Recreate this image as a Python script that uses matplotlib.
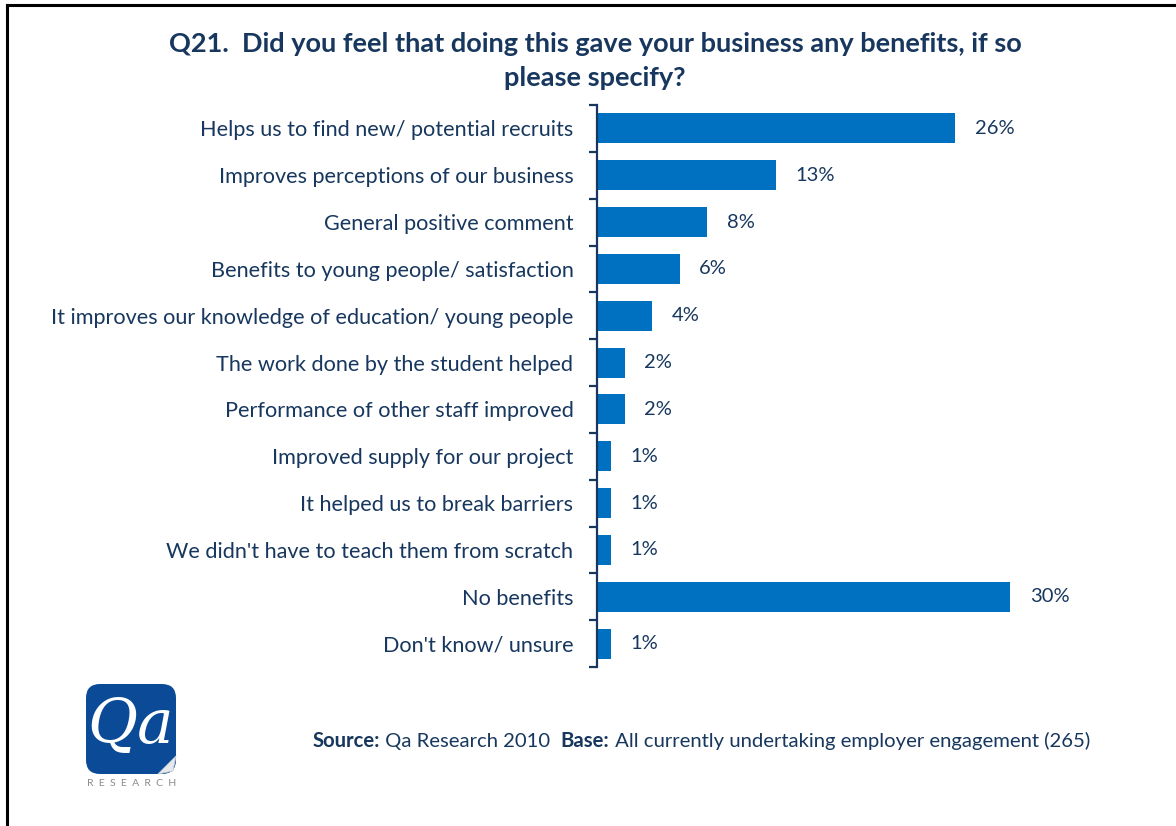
import matplotlib
matplotlib.use("Agg")
import matplotlib.pyplot as plt
import numpy as np
from matplotlib.patches import FancyBboxPatch, Polygon
from matplotlib.lines import Line2D

categories = [
    "Helps us to find new/ potential recruits",
    "Improves perceptions of our business",
    "General positive comment",
    "Benefits to young people/ satisfaction",
    "It improves our knowledge of education/ young people",
    "The work done by the student helped",
    "Performance of other staff improved",
    "Improved supply for our project",
    "It helped us to break barriers",
    "We didn't have to teach them from scratch",
    "No benefits",
    "Don't know/ unsure",
]
values = [26, 13, 8, 6, 4, 2, 2, 1, 1, 1, 30, 1]
value_labels = ["26%", "13%", "8%", "6%", "4%", "2%", "2%", "1%", "1%", "1%", "30%", "1%"]

title = "Q21.  Did you feel that doing this gave your business any benefits, if so\nplease specify?"

BAR = "#0070C0"
NAVY = "#17375E"
FONT = "Lato"

W, H = 1176, 826
fig = plt.figure(figsize=(W / 100, H / 100), dpi=100)

def fx(px):
    return px / W

def fy(py):
    return 1 - py / H

# page frame (top and left edges)
fig.add_artist(Line2D([fx(7), fx(1176)], [fy(5), fy(5)], color="black", lw=2.2))
fig.add_artist(Line2D([fx(7), fx(7)], [fy(5), fy(826)], color="black", lw=2.2))

ax_left, ax_right = 597, 1100
ax_top, ax_bot = 105, 667
ax = fig.add_axes([fx(ax_left), fy(ax_bot), fx(ax_right - ax_left), (ax_bot - ax_top) / H])

n = len(categories)
y = np.arange(n)
ax.barh(y, values, height=0.64, color=BAR, zorder=2)
ax.set_ylim(n - 0.5, -0.5)
ax.set_xlim(0, (ax_right - ax_left) / 13.78)

for yi, v, lab in zip(y, values, value_labels):
    ax.annotate(lab, (v, yi), xytext=(14, 0), textcoords="offset points",
                va="center", ha="left", fontsize=14.5, color=NAVY, family=FONT)

for s in ["top", "right", "bottom"]:
    ax.spines[s].set_visible(False)
ax.spines["left"].set_color(NAVY)
ax.spines["left"].set_linewidth(1.6)
ax.set_xticks([])

# boundaries between categories carry the ticks; labels sit at the centres
ax.set_yticks(np.arange(-0.5, n, 1.0))
ax.set_yticklabels([])
ax.tick_params(axis="y", which="major", length=6, width=1.6, color=NAVY, direction="out")
ax.set_yticks(y, minor=True)
ax.set_yticklabels(categories, minor=True, fontsize=15.6, color=NAVY, family=FONT)
ax.tick_params(axis="y", which="minor", length=0, pad=17)

fig.text(fx(595), fy(61), title, ha="center", va="center", fontsize=19.5,
         fontweight="bold", color=NAVY, family=FONT, linespacing=1.45)

# source line with bold lead-ins
fig.canvas.draw()
renderer = fig.canvas.get_renderer()
pieces = [("Source:", "bold"), (" Qa Research 2010  ", "normal"),
          ("Base:", "bold"), (" All currently undertaking employer engagement (265)", "normal")]
xpos = 313
for txt, wt in pieces:
    t = fig.text(fx(xpos), fy(741), txt, ha="left", va="center", fontsize=14.6,
                 fontweight=wt, color=NAVY, family=FONT)
    bb = t.get_window_extent(renderer)
    xpos += bb.width

# logo
lx0, ly0, lsize = 86, 684, 90
logo = FancyBboxPatch((fx(lx0), fy(ly0 + lsize)), fx(lsize), lsize / H,
                      boxstyle="round,pad=0,rounding_size=0.012",
                      transform=fig.transFigure, facecolor="#0A4A97",
                      edgecolor="none", mutation_aspect=W / H)
fig.add_artist(logo)
# gradient highlight over the upper part
grad = fig.add_axes([fx(lx0 + 3), fy(ly0 + lsize * 0.55), fx(lsize - 6), (lsize * 0.5) / H])
grad.imshow(np.linspace(0, 1, 50).reshape(-1, 1), cmap=matplotlib.colors.LinearSegmentedColormap.from_list(
    "g", ["#2F6CB5", "#0A4A97"]), aspect="auto", alpha=0.6)
grad.axis("off")
# page curl at the bottom-right corner
curl = Polygon([[fx(lx0 + lsize - 18), fy(ly0 + lsize)], [fx(lx0 + lsize), fy(ly0 + lsize - 18)],
                [fx(lx0 + lsize - 3), fy(ly0 + lsize - 3)]], closed=True,
               transform=fig.transFigure, facecolor="#E6E8EC", edgecolor="#C8CCD4", lw=0.6)
fig.add_artist(curl)
fig.text(fx(lx0 + lsize / 2), fy(ly0 + lsize * 0.47), "Qa", ha="center", va="center",
         fontsize=44, style="italic", family="DejaVu Serif", color="white")
fig.text(fx(lx0 + lsize / 2 + 1), fy(784), "R  E  S  E  A  R  C  H", ha="center", va="center",
         fontsize=7.5, color="#8A8A8A", family=FONT)

fig.savefig("out.png", dpi=100, facecolor="white")
